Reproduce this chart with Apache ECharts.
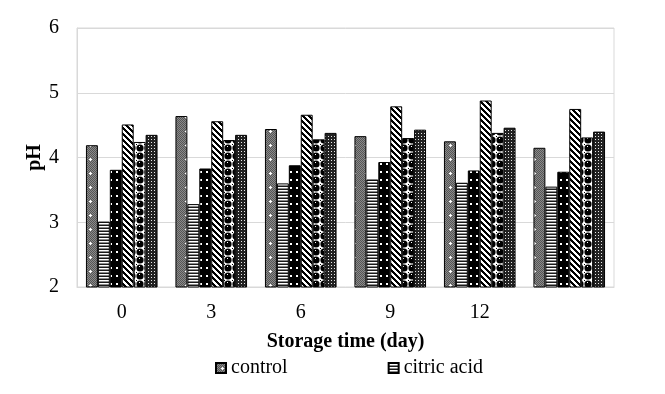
<!DOCTYPE html>
<html>
<head>
<meta charset="utf-8">
<script src="https://cdn.jsdelivr.net/npm/echarts@6/dist/echarts.min.js"></script>
<style>
html,body{margin:0;padding:0;background:#fff;}
#chart{width:665px;height:394px;}
</style>
</head>
<body>
<div id="chart"></div>
<script>
// ---- data ----
const categories = ['0', '3', '6', '9', '12', ''];
const seriesNames = ['control', 'citric acid', 'treatment 3', 'treatment 4', 'treatment 5', 'treatment 6'];
const control    = [4.19, 4.64, 4.44, 4.33, 4.25, 4.15];
const citricAcid = [3.01, 3.28, 3.60, 3.66, 3.61, 3.55];
const treatment3 = [3.81, 3.83, 3.88, 3.93, 3.80, 3.78];
const treatment4 = [4.51, 4.56, 4.66, 4.79, 4.88, 4.75];
const treatment5 = [4.24, 4.27, 4.28, 4.30, 4.38, 4.31];
const treatment6 = [4.35, 4.35, 4.38, 4.43, 4.46, 4.40];
const yTicks = [2, 3, 4, 5, 6];

// ---- patterns ----
function makeCanvas(w, h, draw) {
  const c = document.createElement('canvas');
  c.width = w; c.height = h;
  const ctx = c.getContext('2d');
  draw(ctx, w, h);
  return c;
}
const pat1 = makeCanvas(12, 14, (ctx, w, h) => {
  ctx.fillStyle = '#8a8a8a'; ctx.fillRect(0, 0, w, h);
  for (let y = 0; y < h; y++) for (let x = 0; x < w; x++) {
    if ((x + y) % 2 === 0) { ctx.fillStyle = '#555555'; ctx.fillRect(x, y, 1, 1); }
  }
  ctx.fillStyle = '#ffffff';
  ctx.fillRect(5, 5, 3, 1); ctx.fillRect(6, 4, 1, 3);
});
const pat2 = makeCanvas(4, 3, (ctx, w, h) => {
  ctx.fillStyle = '#ffffff'; ctx.fillRect(0, 0, w, h);
  ctx.fillStyle = '#1a1a1a'; ctx.fillRect(0, 0, w, 1);
  ctx.fillStyle = '#8a8a8a'; ctx.fillRect(0, 2, w, 1);
});
const pat3 = makeCanvas(6, 8, (ctx, w, h) => {
  ctx.fillStyle = '#000000'; ctx.fillRect(0, 0, w, h);
  ctx.fillStyle = '#ffffff'; ctx.fillRect(2, 3, 2, 2);
});
const pat4 = makeCanvas(6, 6, (ctx, w, h) => {
  ctx.fillStyle = '#ffffff'; ctx.fillRect(0, 0, w, h);
  ctx.fillStyle = '#000000';
  for (let y = 0; y < h; y++) for (let x = 0; x < w; x++) {
    const d = ((x - y) % 6 + 6) % 6;
    if (d < 3) ctx.fillRect(x, y, 1, 1);
  }
});
const pat5 = makeCanvas(8, 8, (ctx, w, h) => {
  ctx.fillStyle = '#ffffff'; ctx.fillRect(0, 0, w, h);
  ctx.fillStyle = '#000000';
  ctx.beginPath(); ctx.arc(4, 4, 3.6, 0, Math.PI * 2); ctx.fill();
  ctx.fillStyle = '#ffffff'; ctx.fillRect(3, 2, 1, 1);
  ctx.fillStyle = '#000000'; ctx.fillRect(0, 0, 1, 1);
});
const pat6 = makeCanvas(3, 3, (ctx, w, h) => {
  ctx.fillStyle = '#222222'; ctx.fillRect(0, 0, w, h);
  ctx.fillStyle = '#e8e8e8'; ctx.fillRect(1, 1, 1, 1);
});
const patterns = [pat1, pat2, pat3, pat4, pat5, pat6];
const values = [control, citricAcid, treatment3, treatment4, treatment5, treatment6];

const font = "'Times New Roman', 'Liberation Serif', serif";
const chart = echarts.init(document.getElementById('chart'), null, { renderer: 'canvas' });
chart.setOption({
  animation: false,
  backgroundColor: '#ffffff',
  grid: { left: 77, right: 51, top: 28, bottom: 107, show: true, borderColor: '#d9d9d9', borderWidth: 1, backgroundColor: 'transparent' },
  legend: {
    data: ['control', 'citric acid'],
    left: 210, top: 353,
    icon: 'rect',
    itemWidth: 10, itemHeight: 10, itemGap: 100,
    textStyle: { fontFamily: font, fontSize: 20, color: '#000' }
  },
  xAxis: {
    type: 'category',
    data: categories,
    name: 'Storage time (day)',
    nameLocation: 'middle',
    nameGap: 45,
    nameTextStyle: { fontFamily: font, fontSize: 20, fontWeight: 'bold', color: '#000' },
    axisLine: { lineStyle: { color: '#d9d9d9' } },
    axisTick: { show: false },
    axisLabel: { fontFamily: font, fontSize: 20, color: '#000', margin: 16 }
  },
  yAxis: {
    type: 'value',
    min: yTicks[0], max: yTicks[yTicks.length - 1], interval: 1,
    name: 'pH',
    nameLocation: 'middle',
    nameGap: 32,
    nameMoveOverlap: false,
    nameTextStyle: { fontFamily: font, fontSize: 20, fontWeight: 'bold', color: '#000' },
    axisLine: { show: true, lineStyle: { color: '#d9d9d9' } },
    axisTick: { show: false },
    splitLine: { lineStyle: { color: '#d9d9d9' } },
    axisLabel: { fontFamily: font, fontSize: 20, color: '#000', margin: 18 }
  },
  series: seriesNames.map((n, i) => ({
    name: n,
    type: 'bar',
    data: values[i],
    barGap: '0%',
    barCategoryGap: '20%',
    itemStyle: {
      color: { image: patterns[i], repeat: 'repeat' },
      borderColor: '#000', borderWidth: 1
    }
  }))
});
</script>
</body>
</html>
